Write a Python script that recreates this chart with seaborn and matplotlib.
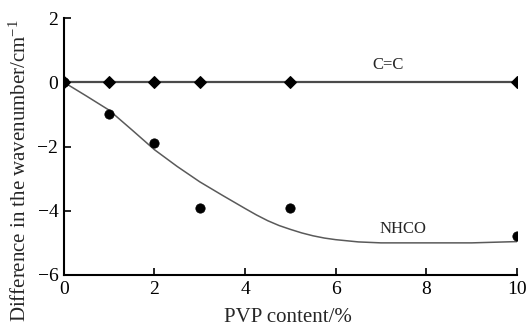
import matplotlib
matplotlib.use("Agg")
import matplotlib.pyplot as plt
import seaborn as sns
import pandas as pd

# Data
pvp = [0, 1, 2, 3, 5, 10]
cc_diff = [0, 0, 0, 0, 0, 0]
nhco_diff = [0, -1.0, -1.9, -3.9, -3.9, -4.8]

# Fitted trend curve
fit_x = [0, 0.5, 1, 1.5, 2, 2.5, 3, 3.5, 4, 4.25, 4.5, 4.75, 5, 5.25, 5.5, 5.75,
         6, 6.5, 7, 8, 9, 9.5, 10]
fit_y = [0, -0.43, -0.87, -1.48, -2.1, -2.62, -3.1, -3.52, -3.93, -4.13, -4.31, -4.46,
         -4.58, -4.69, -4.78, -4.85, -4.9, -4.97, -5.0, -5.0, -5.0, -4.98, -4.96]

x_ticks = [0, 2, 4, 6, 8, 10]
y_ticks = [-6, -4, -2, 0, 2]

sns.set_style("ticks")
plt.rcParams['font.family'] = ['Liberation Serif', 'DejaVu Serif']
plt.rcParams['mathtext.fontset'] = 'custom'
plt.rcParams['mathtext.rm'] = 'Liberation Serif'
plt.rcParams['mathtext.it'] = 'Liberation Serif:italic'

fig = plt.figure(figsize=(5.28, 3.28), dpi=100)
ax = fig.add_axes([0.121, 0.1616, 0.858, 0.7834])

cc_df = pd.DataFrame({"x": pvp, "y": cc_diff})
nh_df = pd.DataFrame({"x": pvp, "y": nhco_diff})
fit_df = pd.DataFrame({"x": fit_x, "y": fit_y})

sns.lineplot(data=cc_df, x="x", y="y", ax=ax, color="#4a4a4a", lw=1.6,
             marker="D", markersize=6, markerfacecolor="black",
             markeredgecolor="black", zorder=3)
sns.lineplot(data=fit_df, x="x", y="y", ax=ax, color="#5a5a5a", lw=1.1, zorder=2)
sns.scatterplot(data=nh_df, x="x", y="y", ax=ax, color="black", marker="o",
                s=45, edgecolor="black", zorder=4)

ax.set_xlim(0, 10)
ax.set_ylim(-6, 2)
ax.set_xticks(x_ticks)
ax.set_yticks(y_ticks)
ax.tick_params(direction="in", length=5, width=1.2, labelsize=14, colors="black", pad=4)
for s in ["top", "right"]:
    ax.spines[s].set_visible(False)
for s in ["left", "bottom"]:
    ax.spines[s].set_linewidth(1.5)
    ax.spines[s].set_color("black")

ax.set_xlabel("PVP content/%", fontsize=15)
ax.set_ylabel("Difference in the wavenumber/cm$^{-1}$", fontsize=15)
ax.xaxis.set_label_coords(0.495, -0.13)
ax.yaxis.set_label_coords(-0.073, 0.405)

ax.text(7.15, 0.53, "C=C", fontsize=12, ha="center", va="center")
ax.text(7.48, -4.56, "NHCO", fontsize=12, ha="center", va="center")

fig.savefig("out.png", dpi=100)
